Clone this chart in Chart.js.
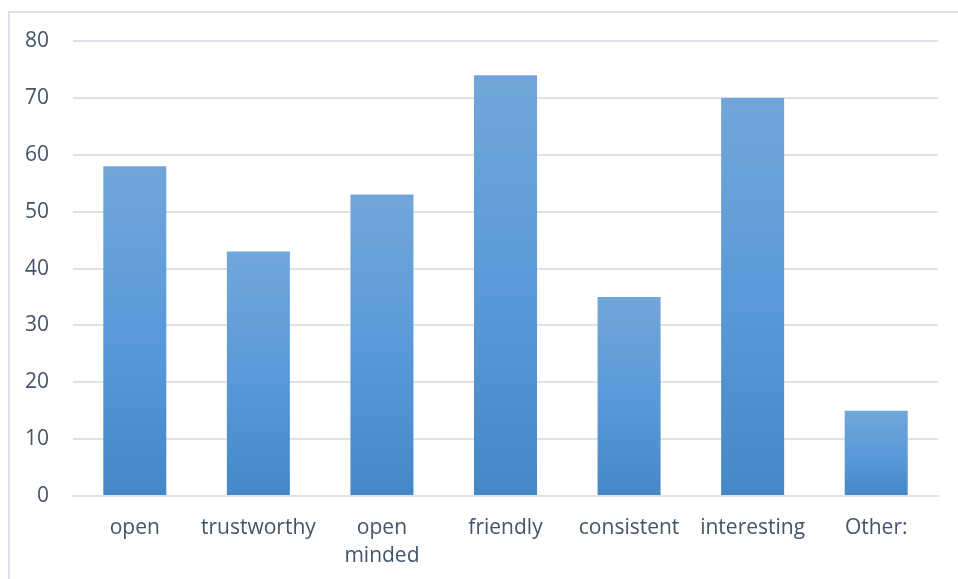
<!DOCTYPE html>
<html>
<head>
<meta charset="utf-8">
<script src="https://cdn.jsdelivr.net/npm/chart.js@4/dist/chart.umd.min.js"></script>
<style>
    html, body { margin: 0; padding: 0; background: #fff; overflow: hidden; }
    #frame {
        position: absolute; left: 8px; top: 11px; width: 1000px; height: 600px;
        border-left: 2px solid #dde2e9; border-top: 2px solid #dde2e9;
    }
    #wrap { position: absolute; left: 0; top: 0; width: 958px; height: 579px; }
</style>
</head>
<body>
<div id="frame"></div>
<div id="wrap"><canvas id="chart"></canvas></div>
<script>
// Chart data
const categories = ['open', 'trustworthy', ['open', 'minded'], 'friendly', 'consistent', 'interesting', 'Other:'];
const values = [58, 43, 53, 74, 35, 70, 15];
const yTicks = { min: 0, max: 80, step: 10 };

const textColor = '#44546a';
const gridColor = '#dde2e9';

// Per-bar vertical gradient, light at the top, darker at the base
function barFill(ctx) {
    const chart = ctx.chart;
    const y = chart.scales && chart.scales.y;
    if (!y || ctx.raw === undefined) return '#5b9bd5';
    const top = y.getPixelForValue(ctx.raw);
    const bottom = y.getPixelForValue(0);
    if (!isFinite(top) || !isFinite(bottom) || top === bottom) return '#5b9bd5';
    const g = chart.ctx.createLinearGradient(0, top, 0, bottom);
    g.addColorStop(0, '#72a6da');
    g.addColorStop(0.5, '#5a9ad9');
    g.addColorStop(1, '#4588c7');
    return g;
}

new Chart(document.getElementById('chart'), {
    type: 'bar',
    data: {
        labels: categories,
        datasets: [{
            data: values,
            backgroundColor: barFill,
            borderWidth: 0,
            categoryPercentage: 1,
            barPercentage: 0.51
        }]
    },
    options: {
        responsive: true,
        maintainAspectRatio: false,
        animation: false,
        layout: { padding: { left: 1, right: 20, top: 41, bottom: -9 } },
        plugins: {
            legend: { display: false },
            tooltip: { enabled: false }
        },
        scales: {
            x: {
                grid: { display: false, drawTicks: false },
                border: { display: true, color: gridColor, width: 2 },
                ticks: {
                    color: textColor,
                    padding: 17,
                    maxRotation: 0,
                    autoSkip: false,
                    font: { family: 'Open Sans', size: 21, lineHeight: 1.38 }
                }
            },
            y: {
                min: yTicks.min,
                max: yTicks.max,
                grid: { color: gridColor, lineWidth: 2, drawTicks: false },
                border: { display: false },
                ticks: {
                    stepSize: yTicks.step,
                    color: textColor,
                    padding: 24,
                    font: { family: 'Open Sans', size: 21 }
                }
            }
        }
    }
});
</script>
</body>
</html>
